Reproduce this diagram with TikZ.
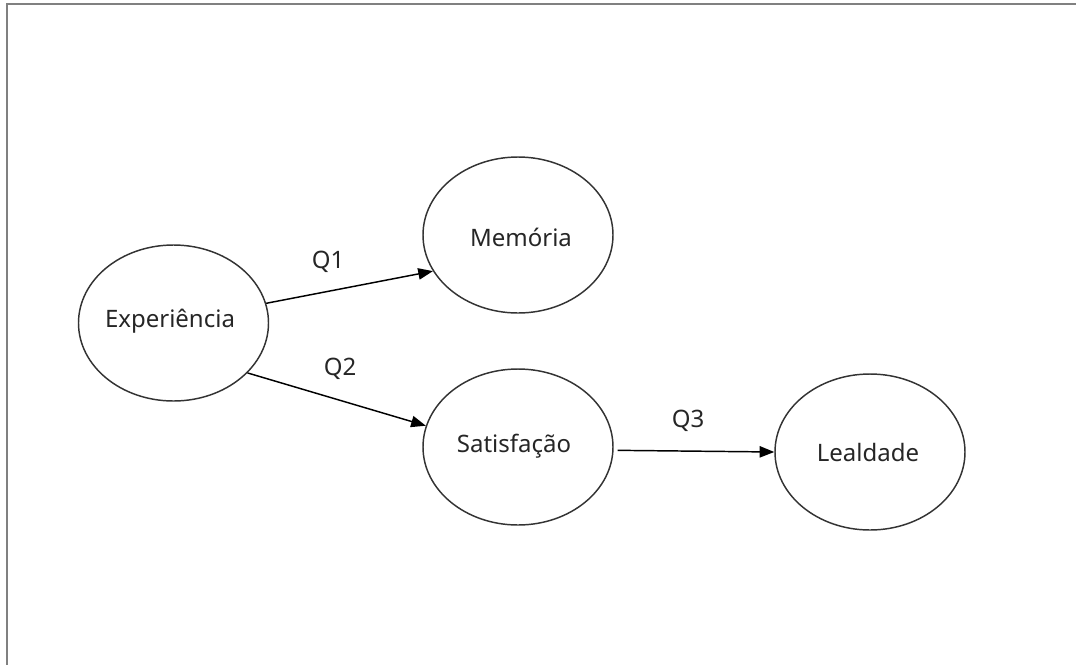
\documentclass[tikz,border=0pt]{standalone}
\usepackage{fontspec}
\setmainfont{Noto Sans}
\usetikzlibrary{arrows.meta,shapes.geometric}
\begin{document}
\begin{tikzpicture}[x=0.75pt,y=-0.75pt,
  bub/.style={draw=black!80,line width=1.1pt,ellipse,minimum width=142.5pt,minimum height=117pt,inner sep=0pt},
  lbl/.style={font=\fontsize{18}{21}\selectfont,text=black!85},
  arr/.style={draw=black,line width=1.1pt,-{Triangle[length=11pt,width=8.5pt]}},
  frame/.style={draw=black!50,line width=1.6pt}]
\useasboundingbox (0,0) rectangle (1076,665);
\coordinate (tl) at (7,4);
\coordinate (tr) at (1076,4);
\coordinate (bl) at (7,665);
\draw[frame] (tr) -- (tl) -- (bl);
\node[bub] (exp) at (173.5,323) {};
\node[bub] (mem) at (518,235) {};
\node[bub] (sat) at (518,447) {};
\node[bub] (lea) at (870,452) {};
\node[lbl] (texp) at (170,321) {Experiência};
\node[lbl] (tmem) at (521,237) {Memória};
\node[lbl] (tsat) at (514,446) {Satisfação};
\node[lbl] (tlea) at (868,452) {Lealdade};
\draw[arr] (exp.12) -- (mem.203);
\draw[arr] (exp.-34) -- (sat.167);
\draw[arr] ([xshift=3pt]sat.-2) -- (lea.180);
\node[lbl] (q1) at (328,262) {Q1};
\node[lbl] (q2) at (340,369) {Q2};
\node[lbl] (q3) at (688,421) {Q3};
\end{tikzpicture}
\end{document}
